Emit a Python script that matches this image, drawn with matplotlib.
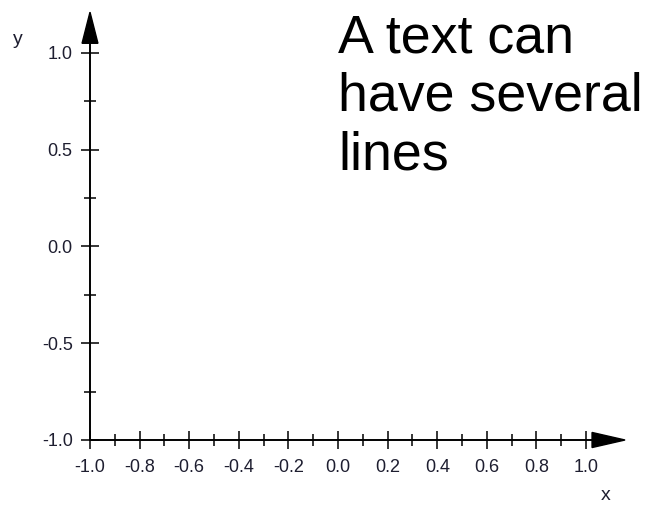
import matplotlib
matplotlib.use("Agg")
import matplotlib.pyplot as plt
from matplotlib.ticker import FixedLocator, FixedFormatter
from matplotlib.patches import Polygon

plt.rcParams['font.family'] = ['Liberation Sans', 'DejaVu Sans']
plt.rcParams['axes.unicode_minus'] = False

# data / ticks
x_major = [-1.0, -0.8, -0.6, -0.4, -0.2, 0.0, 0.2, 0.4, 0.6, 0.8, 1.0]
x_labels = ["-1.0", "-0.8", "-0.6", "-0.4", "-0.2", "0.0", "0.2", "0.4", "0.6", "0.8", "1.0"]
x_minor = [-0.9, -0.7, -0.5, -0.3, -0.1, 0.1, 0.3, 0.5, 0.7, 0.9]
y_major = [-1.0, -0.5, 0.0, 0.5, 1.0]
y_labels = ["-1.0", "-0.5", "0.0", "0.5", "1.0"]
y_minor = [-0.75, -0.25, 0.25, 0.75]
text_pos = (0.0, 1.205)
text_str = "A text can\nhave several\nlines"

W, H = 647, 509
fig = plt.figure(figsize=(W / 100, H / 100), dpi=100)
ax = fig.add_axes([90 / W, 69 / H, 540 / W, 430 / H])
ax.set_xlim(-1.0, 1.177)
ax.set_ylim(-1.0, 1.222)
ax.patch.set_alpha(0)

for s in ['top', 'right']:
    ax.spines[s].set_visible(False)
ax.spines['left'].set_bounds(-1.0, 1.06)
ax.spines['bottom'].set_bounds(-1.0, 1.03)
for s in ['left', 'bottom']:
    ax.spines[s].set_linewidth(1.4)
    ax.spines[s].set_color('black')

ax.xaxis.set_major_locator(FixedLocator(x_major))
ax.xaxis.set_major_formatter(FixedFormatter(x_labels))
ax.xaxis.set_minor_locator(FixedLocator(x_minor))
ax.yaxis.set_major_locator(FixedLocator(y_major))
ax.yaxis.set_major_formatter(FixedFormatter(y_labels))
ax.yaxis.set_minor_locator(FixedLocator(y_minor))

lblcol = '#1e1e30'
ax.tick_params(which='major', direction='inout', length=13, width=1.1,
               color='black', labelsize=13, labelcolor=lblcol)
ax.tick_params(which='minor', direction='inout', length=8.5, width=1.1, color='black')
ax.tick_params(axis='x', which='major', pad=7)
ax.tick_params(axis='y', which='major', pad=6)

# arrow heads
ax.add_patch(Polygon([[-1.0 - 0.032, 1.05], [-1.0 + 0.032, 1.05], [-1.0, 1.211]],
                     closed=True, color='black', clip_on=False, zorder=5))
ax.add_patch(Polygon([[1.024, -1.0 - 0.039], [1.024, -1.0 + 0.039], [1.157, -1.0]],
                     closed=True, color='black', clip_on=False, zorder=5))

ax.text(1.077, -1.289, "x", fontsize=14, color=lblcol, ha='center', va='center', clip_on=False)
ax.text(-1.29, 1.067, "y", fontsize=14, color=lblcol, ha='center', va='center', clip_on=False)

ax.text(text_pos[0], text_pos[1], text_str, fontsize=38.7, color='black',
        ha='left', va='top', linespacing=1.22, clip_on=False)

fig.savefig("out.png", dpi=100)
